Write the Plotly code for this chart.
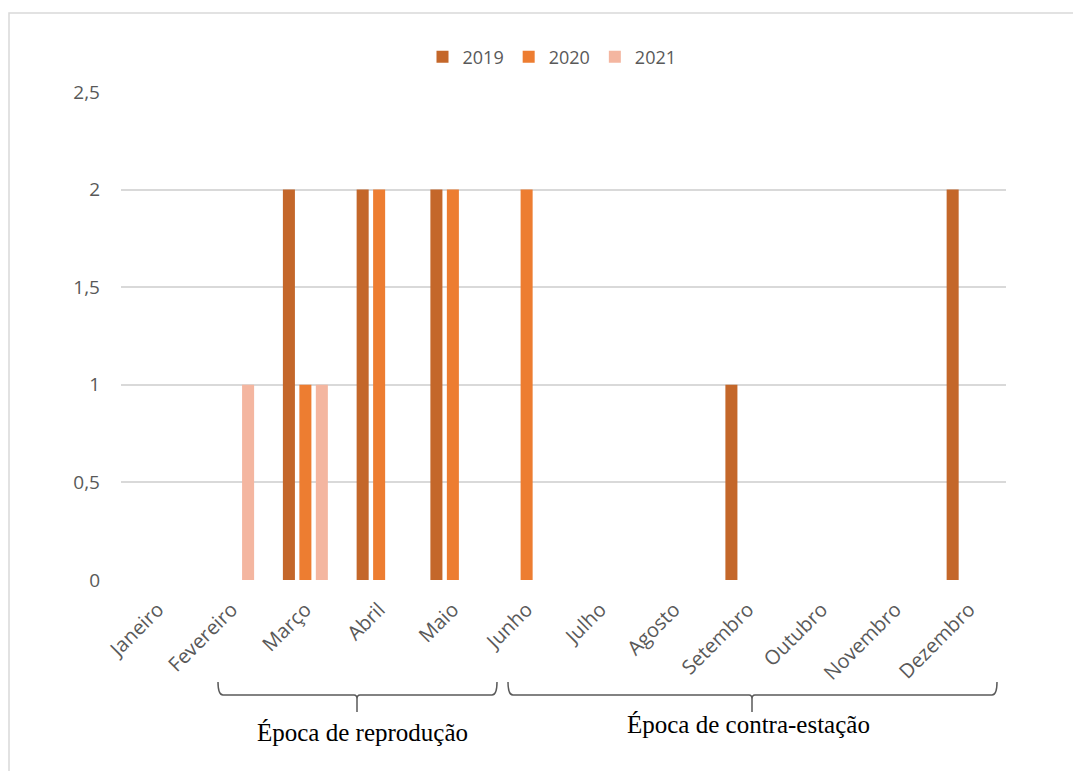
import plotly.graph_objects as go

months = ["Janeiro", "Fevereiro", "Março", "Abril", "Maio", "Junho", "Julho",
          "Agosto", "Setembro", "Outubro", "Novembro", "Dezembro"]
v2019 = [0, 0, 2, 2, 2, 0, 0, 0, 1, 0, 0, 2]
v2020 = [0, 0, 1, 2, 2, 2, 0, 0, 0, 0, 0, 0]
v2021 = [0, 1, 1, 0, 0, 0, 0, 0, 0, 0, 0, 0]
series_names = ["2019", "2020", "2021"]
colors = ["#C4672A", "#ED7D31", "#F4B6A0"]
yticks = [0, 0.5, 1, 1.5, 2, 2.5]
season_labels = ["Época de reprodução", "Época de contra-estação"]

W, H = 1073, 771
L, R, T, B = 121, 67, 92, 191
PW, PH = W - L - R, H - T - B


def px(x):
    return (x - L) / PW


def py(y):
    return (H - B - y) / PH


fig = go.Figure()
for name, vals, c in zip(series_names, [v2019, v2020, v2021], colors):
    fig.add_trace(go.Bar(x=months, y=vals, name=name, marker_color=c,
                         marker_line_width=0))

shapes = []
# outer frame
shapes.append(dict(type="rect", xref="paper", yref="paper",
                   x0=px(9), x1=px(1200), y0=py(900), y1=py(13),
                   line=dict(color="#d9d9d9", width=1.5), layer="below"))


def brace(x0, x1, xc, ytop=682, ybar=695, ytip=712):
    r = 5
    p = (f"M {px(x0)},{py(ytop)} Q {px(x0)},{py(ybar)} {px(x0 + r)},{py(ybar)} "
         f"L {px(xc - 3)},{py(ybar)} Q {px(xc)},{py(ybar)} {px(xc)},{py(ybar + 4)} "
         f"L {px(xc)},{py(ytip)} M {px(xc)},{py(ybar + 4)} "
         f"Q {px(xc)},{py(ybar)} {px(xc + 3)},{py(ybar)} "
         f"L {px(x1 - r)},{py(ybar)} Q {px(x1)},{py(ybar)} {px(x1)},{py(ytop)}")
    return dict(type="path", xref="paper", yref="paper", path=p,
                line=dict(color="#595959", width=1.5))


shapes.append(brace(218, 497, 357))
shapes.append(brace(508, 997, 752))

annotations = [
    dict(x=px(362), y=py(733), xref="paper", yref="paper", text=season_labels[0],
         showarrow=False, xanchor="center", yanchor="middle",
         font=dict(family="Liberation Serif", size=25, color="#000000")),
    dict(x=px(748), y=py(724), xref="paper", yref="paper", text=season_labels[1],
         showarrow=False, xanchor="center", yanchor="middle",
         font=dict(family="Liberation Serif", size=25, color="#000000")),
]

fig.update_layout(
    width=W, height=H,
    margin=dict(l=L, r=R, t=T, b=B, autoexpand=False),
    paper_bgcolor="white", plot_bgcolor="white",
    barmode="group", bargap=0.33, bargroupgap=0.27,
    separators=", ",
    font=dict(family="Open Sans", size=18, color="#595959"),
    legend=dict(orientation="h", x=px(552), y=py(57), xanchor="center",
                yanchor="middle", font=dict(size=18, color="#595959"),
                itemwidth=30, bgcolor="rgba(0,0,0,0)"),
    shapes=shapes, annotations=annotations,
    xaxis=dict(tickangle=-45, showgrid=False, showline=False, zeroline=False,
               ticks="", ticklabelstandoff=13,
               tickfont=dict(size=20, color="#595959")),
    yaxis=dict(range=[0, 2.5], tickvals=yticks, showgrid=True,
               gridcolor="#d9d9d9", gridwidth=2, zeroline=False,
               showline=False, ticks="", ticklabelstandoff=20,
               tickfont=dict(size=19, color="#595959")),
)

fig.write_html("out.html")
